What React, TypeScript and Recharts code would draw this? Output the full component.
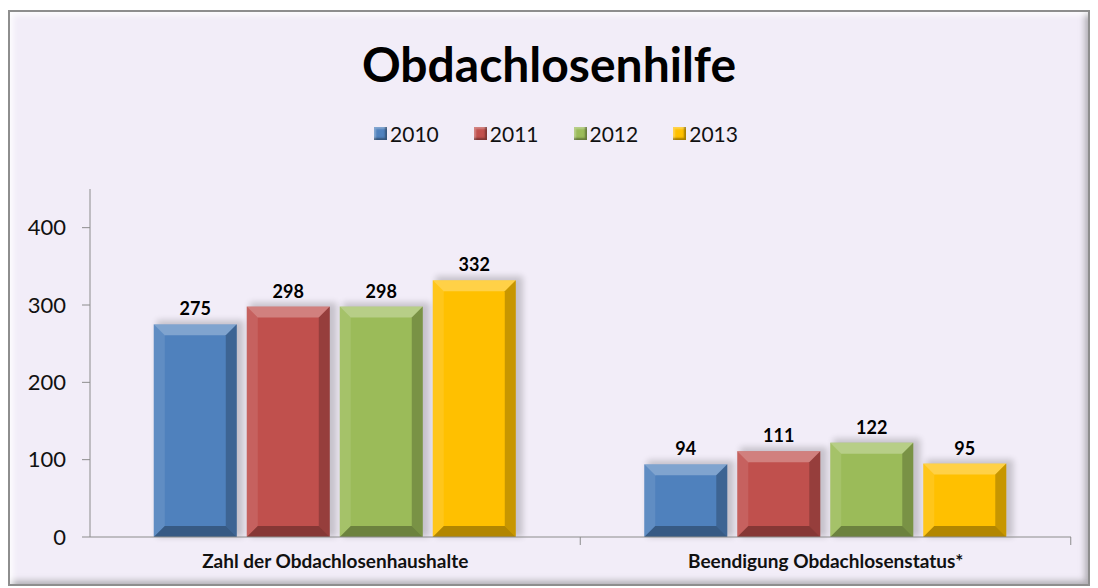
import React from "react";
import { BarChart, Bar, XAxis, YAxis, Legend, LabelList } from "recharts";

const categories = ["Zahl der Obdachlosenhaushalte", "Beendigung Obdachlosenstatus*"];
const years = ["2010", "2011", "2012", "2013"];
const values2010 = [275, 94];
const values2011 = [298, 111];
const values2012 = [298, 122];
const values2013 = [332, 95];
const yTicks = [0, 100, 200, 300, 400];

const colors = ["#4f81bd", "#c0504d", "#9bbb59", "#ffc000"];

const data = categories.map((name, i) => ({
  name,
  y2010: values2010[i],
  y2011: values2011[i],
  y2012: values2012[i],
  y2013: values2013[i],
}));

const FONT = "Lato, 'Open Sans', sans-serif";

// bevelled bar like the office 3D style
function BevelBar(props: any) {
  const { x, y, width, height, fill } = props;
  if (!height || height <= 0) return null;
  const b = Math.min(11, height / 3);
  return (
    <g>
      <rect x={x + 3} y={y - 4} width={width + 4} height={height + 4} fill="#000" opacity={0.18} filter="url(#barShadow)" />
      <rect x={x} y={y} width={width} height={height} fill={fill} />
      {/* top */}
      <polygon points={`${x},${y} ${x + width},${y} ${x + width - b},${y + b} ${x + b},${y + b}`} fill="#fff" opacity={0.28} />
      {/* left */}
      <polygon points={`${x},${y} ${x + b},${y + b} ${x + b},${y + height - b} ${x},${y + height}`} fill="#fff" opacity={0.1} />
      {/* right */}
      <polygon points={`${x + width},${y} ${x + width},${y + height} ${x + width - b},${y + height - b} ${x + width - b},${y + b}`} fill="#000" opacity={0.22} />
      {/* bottom */}
      <polygon points={`${x},${y + height} ${x + width},${y + height} ${x + width - b},${y + height - b} ${x + b},${y + height - b}`} fill="#000" opacity={0.3} />
    </g>
  );
}

function LegendContent() {
  return (
    <div style={{ display: "flex", justifyContent: "center", alignItems: "center", fontFamily: FONT, fontSize: 21, color: "#111", paddingLeft: 68 }}>
      {years.map((yr, i) => (
        <div key={yr} style={{ display: "flex", alignItems: "center", marginRight: 35 }}>
          <span
            style={{
              display: "inline-block",
              width: 13,
              height: 13,
              marginRight: 3,
              background: colors[i],
              boxShadow: "inset -2px -2px 2px rgba(0,0,0,0.35), inset 2px 2px 2px rgba(255,255,255,0.3)",
            }}
          />
          <span>{yr}</span>
        </div>
      ))}
    </div>
  );
}

function CategoryTick(props: any) {
  const { x, y, payload } = props;
  const half = 245;
  return (
    <g>
      <line x1={x + half} y1={y - 8} x2={x + half} y2={y} stroke="#8c8c8c" />
      <text x={x} y={y + 23} textAnchor="middle" fontFamily={FONT} fontWeight="bold" fontSize={19} fill="#111">
        {payload.value}
      </text>
    </g>
  );
}

export default function App() {
  return (
    <div
      style={{
        position: "relative",
        width: 1082,
        height: 576,
        marginTop: 2,
        boxSizing: "border-box",
        background: "#f2edf8",
        border: "2px solid #8e8e8e",
        boxShadow: "inset 6px 6px 6px -3px rgba(255,255,255,0.9), inset -6px -6px 6px -3px rgba(110,110,110,0.5)",
      }}
    >
      <div
        style={{
          position: "absolute",
          top: 23,
          left: 0,
          width: "100%",
          textAlign: "center",
          fontFamily: FONT,
          fontWeight: "bold",
          fontSize: 48,
          color: "#000",
        }}
      >
        Obdachlosenhilfe
      </div>
      <div style={{ position: "absolute", left: -2, top: -4 }}>
        <BarChart
          width={1082}
          height={576}
          data={data}
          margin={{ top: 156, right: 19, left: 0, bottom: 7 }}
          barCategoryGap="13%"
          barGap={10}
        >
          <defs>
            <filter id="barShadow" x="-20%" y="-20%" width="140%" height="140%">
              <feGaussianBlur stdDeviation="3" />
            </filter>
          </defs>
          <Legend verticalAlign="top" content={<LegendContent />} wrapperStyle={{ top: 113 }} />
          <XAxis
            dataKey="name"
            height={40}
            axisLine={{ stroke: "#8c8c8c" }}
            tickLine={false}
            tick={<CategoryTick />}
            interval={0}
          />
          <YAxis
            width={82}
            domain={[0, 450]}
            ticks={yTicks}
            axisLine={{ stroke: "#8c8c8c" }}
            tickLine={{ stroke: "#8c8c8c" }}
            tickSize={8}
            tickMargin={16}
            tick={{ fontFamily: FONT, fontSize: 22, fill: "#111" }}
          />
          {years.map((yr, i) => (
            <Bar key={yr} dataKey={`y${yr}`} name={yr} fill={colors[i]} shape={<BevelBar />} isAnimationActive={false}>
              <LabelList dataKey={`y${yr}`} position="top" offset={9} style={{ fontFamily: FONT, fontWeight: "bold", fontSize: 18, fill: "#000" }} />
            </Bar>
          ))}
        </BarChart>
      </div>
    </div>
  );
}
